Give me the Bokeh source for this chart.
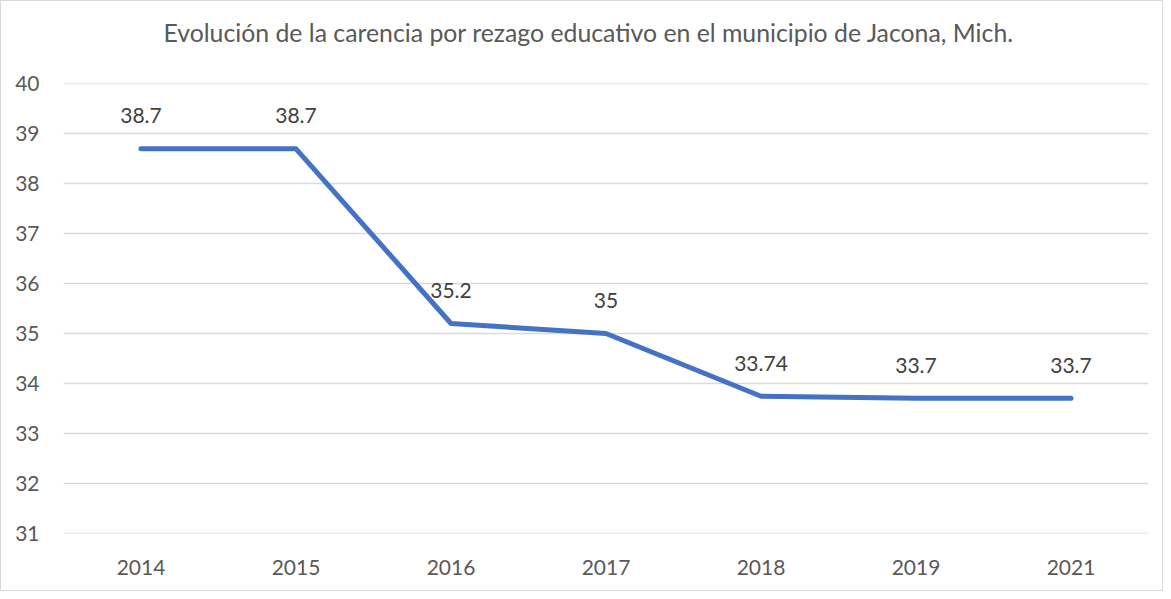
from bokeh.plotting import figure
from bokeh.models import ColumnDataSource, Range1d, FactorRange, FixedTicker, LabelSet, Title
from bokeh.core.properties import value
from bokeh.embed import file_html
from bokeh.resources import INLINE

years = ["2014", "2015", "2016", "2017", "2018", "2019", "2021"]
values = [38.7, 38.7, 35.2, 35.0, 33.74, 33.7, 33.7]
labels = ["38.7", "38.7", "35.2", "35", "33.74", "33.7", "33.7"]
y_ticks = [31, 32, 33, 34, 35, 36, 37, 38, 39, 40]
title_text = "Evolución de la carencia por rezago educativo en el municipio de Jacona, Mich."

FONT = "Lato"

src = ColumnDataSource(dict(x=years, y=values, lab=labels))

p = figure(width=1163, height=591, x_range=FactorRange(*years, range_padding=0),
           y_range=Range1d(30.99, 40.01), output_backend="svg", toolbar_location=None,
           min_border_left=62, min_border_right=16, min_border_top=82, min_border_bottom=59)

p.add_layout(Title(text=title_text + "\n ", align="left", offset=100,
                   text_font=FONT, text_font_size="24.8px", text_color="#595959",
                   text_font_style="normal", standoff=16), "above")

p.line("x", "y", source=src, line_color="#4472C4", line_width=5, line_cap="round", line_join="round")

p.add_layout(LabelSet(x="x", y="y", text="lab", source=src, y_offset=33, text_align="center",
                      text_baseline="middle", text_font=value(FONT), text_font_size=value("21px"),
                      text_color="#404040"))

p.yaxis.ticker = FixedTicker(ticks=y_ticks)
for ax in (p.xaxis[0], p.yaxis[0]):
    ax.axis_line_color = None
    ax.major_tick_line_color = None
    ax.minor_tick_line_color = None
    ax.major_label_text_font = FONT
    ax.major_label_text_font_size = "21px"
    ax.major_label_text_color = "#595959"
p.yaxis.major_label_standoff = 18
p.xaxis.major_label_standoff = 20

p.xgrid.grid_line_color = None
p.ygrid.grid_line_color = "#D9D9D9"
p.ygrid.grid_line_width = 1.5
p.outline_line_color = None
p.background_fill_color = "white"
p.border_fill_color = "white"
p.styles = {"border": "1.5px solid #D9D9D9", "box-sizing": "border-box"}

open("out.html", "w").write(file_html(p, INLINE))
